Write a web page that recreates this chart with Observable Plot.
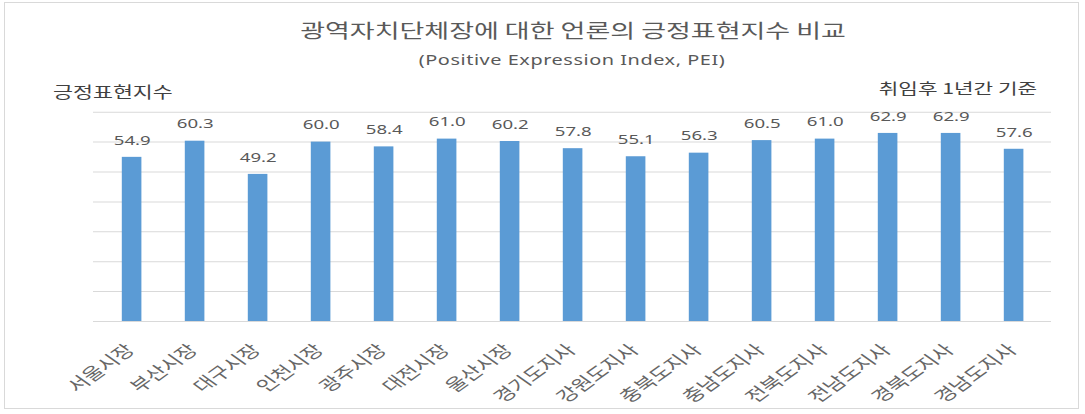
<!DOCTYPE html>
<html><head><meta charset="utf-8">
<script src="https://cdn.jsdelivr.net/npm/d3@7"></script>
<script src="https://cdn.jsdelivr.net/npm/@observablehq/plot@0.6"></script>
<style>
html,body{margin:0;padding:0;background:#fff;}
#wrap{position:relative;width:1085px;height:414px;overflow:hidden;background:#fff;}
.t{position:absolute;white-space:nowrap;line-height:1;color:#595959;font-family:'Noto Sans CJK KR',sans-serif;}
#border{position:absolute;left:4px;top:2px;width:1075px;height:407px;box-sizing:border-box;border:1px solid #d9d9d9;pointer-events:none;}
</style></head><body><div id="wrap"></div><script>
const regions = ["서울시장","부산시장","대구시장","인천시장","광주시장","대전시장","울산시장","경기도지사","강원도지사","충북도지사","충남도지사","전북도지사","전남도지사","경북도지사","경남도지사"];
const pei = [54.9,60.3,49.2,60.0,58.4,61.0,60.2,57.8,55.1,56.3,60.5,61.0,62.9,62.9,57.6];
const yTicks = [0,10,20,30,40,50,60,70];
const titleText = "광역자치단체장에 대한 언론의 긍정표현지수 비교";
const subtitleText = "(Positive Expression Index, PEI)";
const yLabelText = "긍정표현지수";
const noteText = "취임후 1년간 기준";

const data = regions.map((r, i) => ({region: r, pei: pei[i]}));
const S = 1.4, W = 1085, H = 414;

const chart = Plot.plot({
  width: W / S, height: H,
  marginLeft: 93 / S, marginRight: (W - 1051) / S, marginTop: 111.7, marginBottom: 93,
  x: {domain: regions, paddingInner: 0.69, paddingOuter: 0.345, label: null},
  y: {domain: [0, 70], axis: null},
  style: {fontFamily: "'Noto Sans CJK KR', sans-serif", color: "#595959", background: "transparent"},
  marks: [
    Plot.gridY(yTicks, {stroke: "#d9d9d9", strokeOpacity: 1}),
    Plot.barY(data, {x: "region", y: "pei", fill: "#5b9bd5"}),
    Plot.text(data, {x: "region", y: "pei", text: d => d.pei.toFixed(1), dy: -17, fontSize: 13.3, fill: "#595959", fontFamily: "'Noto Sans', sans-serif"}),
    Plot.axisX({tickSize: 0, tickRotate: -45, tickPadding: 26, fontSize: 16.2, label: null, dx: -1, fill: "#666666"})
  ]
});
chart.setAttribute("preserveAspectRatio", "none");
chart.setAttribute("width", W);
chart.setAttribute("height", H);
chart.style.width = W + "px";
chart.style.height = H + "px";
chart.style.maxWidth = "none";
chart.style.position = "absolute";
chart.style.left = "0px";
chart.style.top = "0px";
chart.style.background = "transparent";

const wrap = document.getElementById("wrap");
wrap.appendChild(chart);

function addText(txt, css) {
  const d = document.createElement("div");
  d.className = "t";
  d.textContent = txt;
  Object.assign(d.style, css);
  wrap.appendChild(d);
}
addText(titleText, {left: "572.5px", top: "31px", fontSize: "19.3px", transform: "translate(-50%,-50%) scaleX(1.4)"});
addText(subtitleText, {left: "572px", top: "59.5px", fontSize: "14.2px", letterSpacing: "0.4px", fontFamily: "'Noto Sans',sans-serif", transform: "translate(-50%,-50%) scaleX(1.4)"});
addText(yLabelText, {left: "53px", top: "91.5px", fontSize: "15.5px", color: "#404040", transformOrigin: "left center", transform: "translateY(-50%) scaleX(1.4)"});
addText(noteText, {right: "48px", top: "87.5px", fontSize: "15.2px", color: "#404040", transformOrigin: "right center", transform: "translateY(-50%) scaleX(1.4)"});
const b = document.createElement("div");
b.id = "border";
wrap.appendChild(b);
</script></body></html>
